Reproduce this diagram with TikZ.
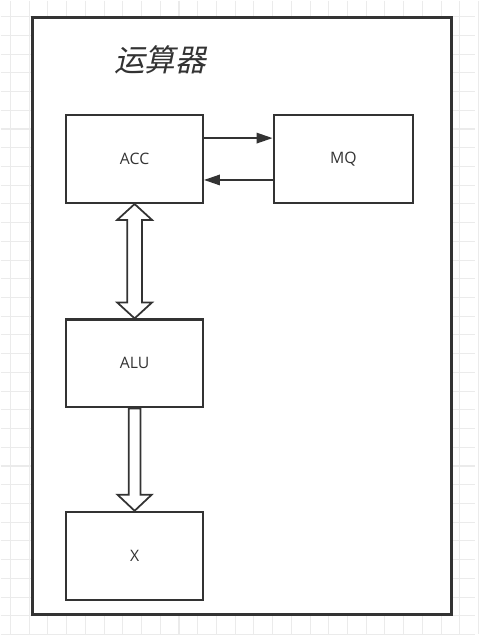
\documentclass[tikz,border=0pt]{standalone}
\usepackage{fontspec}
\setmainfont{Open Sans}
\newfontfamily\cjk[FakeSlant=0.22]{Noto Sans CJK SC}
\usetikzlibrary{calc,arrows.meta}
\definecolor{linegray}{HTML}{333333}
\definecolor{gridgray}{HTML}{EBEBEB}

\begin{document}
\begin{tikzpicture}[x=0.02cm,y=-0.02cm]
    % Define styles
    \tikzstyle{unit} = [rectangle, minimum width=2.74cm, minimum height=1.76cm,
                        text centered, draw=linegray, line width=1.3pt, fill=white,
                        text=linegray, font=\fontsize{9}{11}\selectfont]
    \tikzstyle{arrow} = [draw=linegray, line width=1pt, -{Triangle[length=0.32cm, width=0.21cm]}]
    \tikzstyle{block} = [draw=linegray, line width=1pt, fill=white, line join=miter]
    \tikzstyle{gridline} = [draw=gridgray, line width=0.6pt]

    % Background grid and frame
    \fill[white] (0,0) rectangle (476,635);
    \foreach \i in {0,...,25} {
        \draw[gridline] (10+\i*18.78,0) -- (10+\i*18.78,635);
    }
    \foreach \i in {0,...,33} {
        \draw[gridline] (0,16.2+\i*18.78) -- (476,16.2+\i*18.78);
    }
    \draw[draw=linegray, line width=1.6pt, fill=white] (32,17) rectangle (452,616);
    \useasboundingbox (0,0) rectangle (476,635);

    % Title
    \node[text=linegray, font=\cjk\fontsize{17.5}{20}\selectfont] (title) at (160,60) {运算器};

    % Nodes positioned absolutely
    \node[unit] (acc) at (134.5,159) {ACC};
    \node[unit, minimum width=2.8cm] (mq) at (344,159) {MQ};
    \node[unit] (alu) at (134.5,364) {ALU};
    \node[unit] (xreg) at (134.5,557) {X};

    % Arrows
    \draw[arrow] ($(acc.east)+(0,-21)$) -- ($(mq.west)+(0,-21)$);
    \draw[arrow] ($(mq.west)+(0,21)$) -- ($(acc.east)+(0,21)$);
    \draw[block] (acc.south) -- ++(17.5,16) -- ++(-10,0) -- ($(alu.north)+(7.5,-16)$)
        -- ++(10,0) -- (alu.north) -- ++(-17.5,-16) -- ++(10,0)
        -- ($(acc.south)+(-7.5,16)$) -- ++(-10,0) -- cycle;
    \draw[block] ($(alu.south)+(6,0)$) -- ($(xreg.north)+(6,-16)$) -- ++(11,0)
        -- (xreg.north) -- ++(-17,-16) -- ++(11,0) -- ($(alu.south)+(-6,0)$) -- cycle;
\end{tikzpicture}
\end{document}
